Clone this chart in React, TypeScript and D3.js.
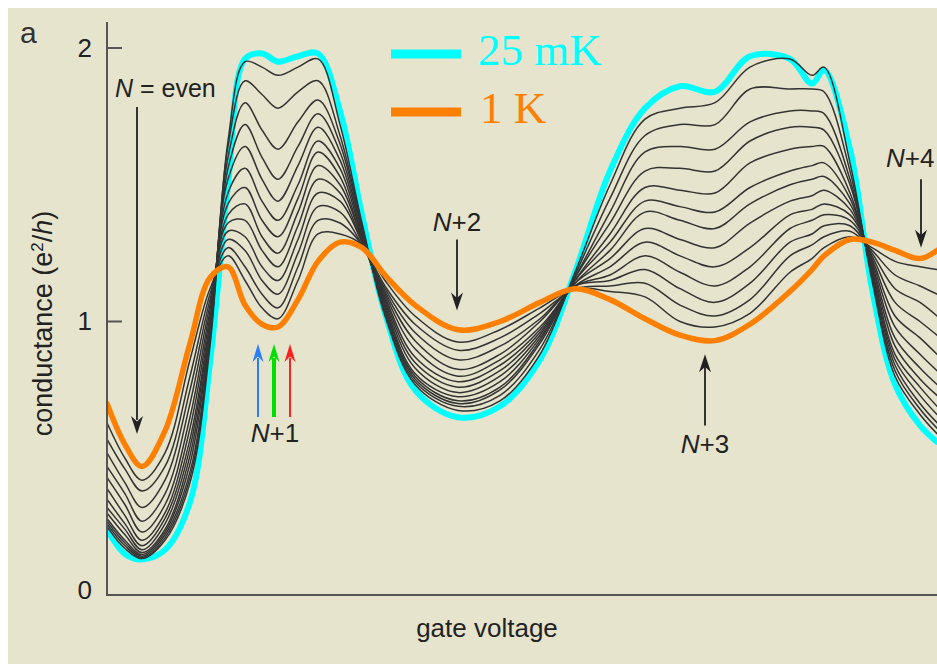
import React from "react";
import * as d3 from "d3";

// gate voltage (arbitrary units) at the sampled knots
const gateVoltage = [0, 18, 35, 58, 83, 103, 121, 138, 155, 171, 191, 211, 233, 255, 278, 308, 351, 393, 433, 468, 503, 538, 573, 608, 643, 683, 705, 717, 743, 765, 788, 813, 830];

// conductance (e^2/h) at 25 mK
const g25mK = [0.24, 0.15, 0.13, 0.165, 0.34, 0.85, 1.50, 1.96, 1.98, 1.95, 1.97, 1.98, 1.77, 1.39, 1.03, 0.75, 0.65, 0.69, 0.86, 1.18, 1.55, 1.78, 1.86, 1.84, 1.97, 1.96, 1.87, 1.92, 1.63, 1.12, 0.77, 0.62, 0.56];

// conductance at 1 K
const g1K = [0.70, 0.55, 0.47, 0.60, 0.92, 1.16, 1.20, 1.06, 0.99, 0.98, 1.08, 1.22, 1.29, 1.27, 1.17, 1.06, 0.97, 1.00, 1.07, 1.12, 1.08, 1.01, 0.95, 0.93, 0.99, 1.11, 1.19, 1.24, 1.30, 1.29, 1.26, 1.23, 1.26];

// intermediate temperatures: one row per gate-voltage knot, columns coldest -> warmest
const intermediateByKnot = [
  [0.25, 0.26, 0.27, 0.28, 0.30, 0.32, 0.35, 0.39, 0.43, 0.47, 0.52, 0.57, 0.63],
  [0.17, 0.18, 0.19, 0.20, 0.22, 0.24, 0.26, 0.29, 0.33, 0.37, 0.41, 0.46, 0.50],
  [0.133, 0.137, 0.142, 0.148, 0.155, 0.165, 0.18, 0.20, 0.23, 0.27, 0.32, 0.38, 0.42],
  [0.20, 0.21, 0.22, 0.23, 0.24, 0.26, 0.28, 0.30, 0.33, 0.37, 0.42, 0.47, 0.52],
  [0.41, 0.43, 0.45, 0.48, 0.51, 0.54, 0.57, 0.61, 0.65, 0.70, 0.75, 0.80, 0.86],
  [0.91, 0.93, 0.94, 0.96, 0.97, 0.99, 1.00, 1.02, 1.04, 1.06, 1.08, 1.10, 1.12],
  [1.66, 1.64, 1.60, 1.56, 1.52, 1.47, 1.43, 1.39, 1.36, 1.33, 1.30, 1.27, 1.24],
  [1.95, 1.88, 1.80, 1.72, 1.64, 1.56, 1.49, 1.43, 1.37, 1.31, 1.26, 1.20, 1.15],
  [1.93, 1.83, 1.70, 1.60, 1.52, 1.44, 1.37, 1.31, 1.26, 1.20, 1.15, 1.10, 1.05],
  [1.90, 1.78, 1.63, 1.52, 1.44, 1.37, 1.31, 1.25, 1.20, 1.15, 1.10, 1.05, 1.01],
  [1.93, 1.84, 1.73, 1.64, 1.57, 1.50, 1.45, 1.40, 1.35, 1.30, 1.25, 1.20, 1.15],
  [1.96, 1.88, 1.81, 1.76, 1.71, 1.66, 1.62, 1.57, 1.52, 1.47, 1.42, 1.37, 1.32],
  [1.72, 1.68, 1.65, 1.62, 1.59, 1.56, 1.53, 1.50, 1.47, 1.44, 1.40, 1.36, 1.32],
  [1.36, 1.35, 1.34, 1.33, 1.32, 1.31, 1.30, 1.30, 1.29, 1.29, 1.28, 1.28, 1.28],
  [1.02, 1.03, 1.04, 1.05, 1.06, 1.07, 1.08, 1.09, 1.10, 1.11, 1.12, 1.13, 1.15],
  [0.77, 0.78, 0.79, 0.80, 0.81, 0.83, 0.85, 0.87, 0.90, 0.93, 0.96, 0.99, 1.02],
  [0.675, 0.69, 0.70, 0.71, 0.725, 0.74, 0.76, 0.78, 0.80, 0.825, 0.86, 0.895, 0.925],
  [0.71, 0.73, 0.75, 0.76, 0.78, 0.80, 0.82, 0.84, 0.86, 0.88, 0.91, 0.94, 0.97],
  [0.88, 0.90, 0.92, 0.93, 0.94, 0.95, 0.96, 0.97, 0.98, 1.00, 1.01, 1.03, 1.05],
  [1.18, 1.17, 1.16, 1.16, 1.15, 1.15, 1.14, 1.14, 1.13, 1.13, 1.13, 1.12, 1.12],
  [1.50, 1.45, 1.40, 1.36, 1.32, 1.29, 1.26, 1.23, 1.20, 1.17, 1.15, 1.13, 1.11],
  [1.74, 1.68, 1.62, 1.55, 1.49, 1.44, 1.40, 1.34, 1.29, 1.24, 1.19, 1.14, 1.09],
  [1.78, 1.72, 1.64, 1.56, 1.48, 1.42, 1.37, 1.30, 1.24, 1.18, 1.12, 1.06, 1.00],
  [1.80, 1.72, 1.63, 1.55, 1.47, 1.40, 1.34, 1.27, 1.20, 1.13, 1.07, 1.02, 0.98],
  [1.93, 1.85, 1.73, 1.66, 1.58, 1.49, 1.43, 1.36, 1.27, 1.20, 1.14, 1.08, 1.03],
  [1.96, 1.85, 1.77, 1.71, 1.63, 1.55, 1.50, 1.44, 1.39, 1.34, 1.29, 1.24, 1.18],
  [1.90, 1.85, 1.77, 1.71, 1.64, 1.57, 1.52, 1.46, 1.41, 1.37, 1.32, 1.28, 1.23],
  [1.93, 1.84, 1.76, 1.70, 1.64, 1.58, 1.53, 1.48, 1.43, 1.39, 1.35, 1.31, 1.27],
  [1.58, 1.55, 1.52, 1.50, 1.47, 1.45, 1.43, 1.41, 1.39, 1.37, 1.35, 1.33, 1.31],
  [1.15, 1.16, 1.17, 1.18, 1.19, 1.20, 1.21, 1.22, 1.23, 1.24, 1.25, 1.26, 1.27],
  [0.80, 0.82, 0.84, 0.86, 0.88, 0.91, 0.94, 0.98, 1.02, 1.07, 1.12, 1.17, 1.22],
  [0.66, 0.68, 0.70, 0.73, 0.76, 0.79, 0.83, 0.88, 0.94, 1.00, 1.07, 1.13, 1.20],
  [0.59, 0.61, 0.63, 0.66, 0.69, 0.73, 0.77, 0.82, 0.88, 0.95, 1.02, 1.10, 1.19],
];

const yTicks = [0, 1, 2];
const legendLabels = ["25 mK", "1 K"];

// annotations: label, gate voltage, text position (conductance), arrow from / to
const annotations = [
  { label: "+2", gv: 350, textG: 1.33, from: 1.30, to: 1.04, anchor: "middle", dx: 0 },
  { label: "+3", gv: 598, textG: 0.52, from: 0.62, to: 0.88, anchor: "middle", dx: 0 },
  { label: "+4", gv: 814, textG: 1.565, from: 1.52, to: 1.27, anchor: "start", dx: -35 },
];
const nPlus1Arrows = [
  { gv: 151, color: "#2a7dff", w: 2 },
  { gv: 167, color: "#00e000", w: 4 },
  { gv: 183, color: "#ff2020", w: 2 },
];

const W = 937;
const H = 664;
const left = 107;
const right = 937;
const bottom = 595;

const FONT = "'Liberation Sans', Arial, sans-serif";

function arrowHead(x: number, yTip: number, dir: number, w = 12, len = 18, fill = "#222") {
  // dir = 1 pointing down, -1 pointing up
  const back = yTip - dir * len;
  const notch = yTip - dir * len * 0.7;
  const d = `M${x},${yTip} L${x - w / 2},${back} L${x},${notch} L${x + w / 2},${back} Z`;
  return <path d={d} fill={fill} />;
}

export default function App() {
  const x = d3.scaleLinear().domain([0, 830]).range([left, right]);
  const y = d3.scaleLinear().domain([0, 2]).range([bottom, 48]);

  const line = d3
    .line<number>()
    .x((_, i) => x(gateVoltage[i]))
    .y((d) => y(d))
    .curve(d3.curveCatmullRom.alpha(0.5));

  const intermediate = d3.transpose<number>(intermediateByKnot);

  return (
    <svg
      width={W}
      height={H}
      style={{ position: "absolute", left: 0, top: 0, display: "block" }}
    >
      <rect x={0} y={0} width={W} height={H} fill="#ffffff" />
      <rect x={8} y={8} width={W - 8} height={H - 8} fill="#e6e4cd" />
      <defs>
        <clipPath id="plot">
          <rect x={left} y={10} width={right - left} height={bottom - 10} />
        </clipPath>
      </defs>

      {/* curves */}
      <g clipPath="url(#plot)" fill="none" strokeLinejoin="round" strokeLinecap="round">
        <path d={line(g25mK) || ""} stroke="#00ffff" strokeWidth={6} />
        {intermediate.map((s, i) => (
          <path key={i} d={line(s) || ""} stroke="#333333" strokeWidth={1.5} />
        ))}
        <path d={line(g1K) || ""} stroke="#ff8000" strokeWidth={5.5} />
      </g>

      {/* axes */}
      <line x1={left} x2={left} y1={22} y2={bottom + 1} stroke="#555" strokeWidth={2} />
      <line x1={left - 1} x2={right} y1={bottom} y2={bottom} stroke="#555" strokeWidth={2} />
      {yTicks.map((t) => (
        <g key={t}>
          {t > 0 && (
            <line x1={left} x2={left + 15} y1={y(t)} y2={y(t)} stroke="#555" strokeWidth={2} />
          )}
          <text
            x={92}
            y={t === 0 ? y(t) - 3 : y(t) + 2}
            textAnchor="end"
            dominantBaseline="middle"
            fontFamily={FONT}
            fontSize={26}
            fill="#222"
          >
            {t}
          </text>
        </g>
      ))}

      <text x={20} y={43} fontFamily={FONT} fontSize={30} fill="#333">
        a
      </text>

      <text
        transform={`translate(52,${y(1) + 2}) rotate(-90)`}
        textAnchor="middle"
        fontFamily={FONT}
        fontSize={27}
        fill="#222"
      >
        conductance (e
        <tspan dy={-9} fontSize={17}>
          2
        </tspan>
        <tspan dy={9}>/</tspan>
        <tspan fontStyle="italic">h</tspan>)
      </text>

      <text
        x={487}
        y={637}
        textAnchor="middle"
        fontFamily={FONT}
        fontSize={26}
        fill="#222"
      >
        gate voltage
      </text>

      {/* legend */}
      <line x1={391} x2={461} y1={54} y2={54} stroke="#00ffff" strokeWidth={9} />
      <text x={478} y={65} fontFamily="'Liberation Serif', 'Times New Roman', serif" fontSize={45} fill="#00ffff">
        {legendLabels[0]}
      </text>
      <line x1={391} x2={461} y1={112} y2={112} stroke="#ff8000" strokeWidth={9} />
      <text x={480} y={123} fontFamily="'Liberation Serif', 'Times New Roman', serif" fontSize={45} fill="#ff8000">
        {legendLabels[1]}
      </text>

      {/* N = even */}
      <text x={115} y={97} fontFamily={FONT} fontSize={25} fill="#222">
        <tspan fontStyle="italic">N</tspan> = even
      </text>
      <line x1={x(30)} x2={x(30)} y1={107} y2={420} stroke="#333" strokeWidth={2} />
      {arrowHead(x(30), 434, 1)}

      {/* N+1 coloured arrows */}
      {nPlus1Arrows.map((a, i) => (
        <g key={i}>
          <line x1={x(a.gv)} x2={x(a.gv)} y1={417} y2={358} stroke={a.color} strokeWidth={a.w} />
          {arrowHead(x(a.gv), 344, -1, 11, 18, a.color)}
        </g>
      ))}
      <text x={x(168)} y={442} textAnchor="middle" fontFamily={FONT} fontSize={26} fill="#222">
        <tspan fontStyle="italic">N</tspan>+1
      </text>

      {annotations.map((a, i) => {
        const ax = x(a.gv);
        const dir = a.to < a.from ? 1 : -1;
        const tipY = y(a.to);
        return (
          <g key={i}>
            <text
              x={ax + a.dx}
              y={y(a.textG)}
              textAnchor={a.anchor}
              fontFamily={FONT}
              fontSize={26}
              fill="#222"
            >
              <tspan fontStyle="italic">N</tspan>
              {a.label}
            </text>
            <line x1={ax} x2={ax} y1={y(a.from)} y2={tipY - dir * 12} stroke="#333" strokeWidth={2} />
            {arrowHead(ax, tipY, dir)}
          </g>
        );
      })}
    </svg>
  );
}
